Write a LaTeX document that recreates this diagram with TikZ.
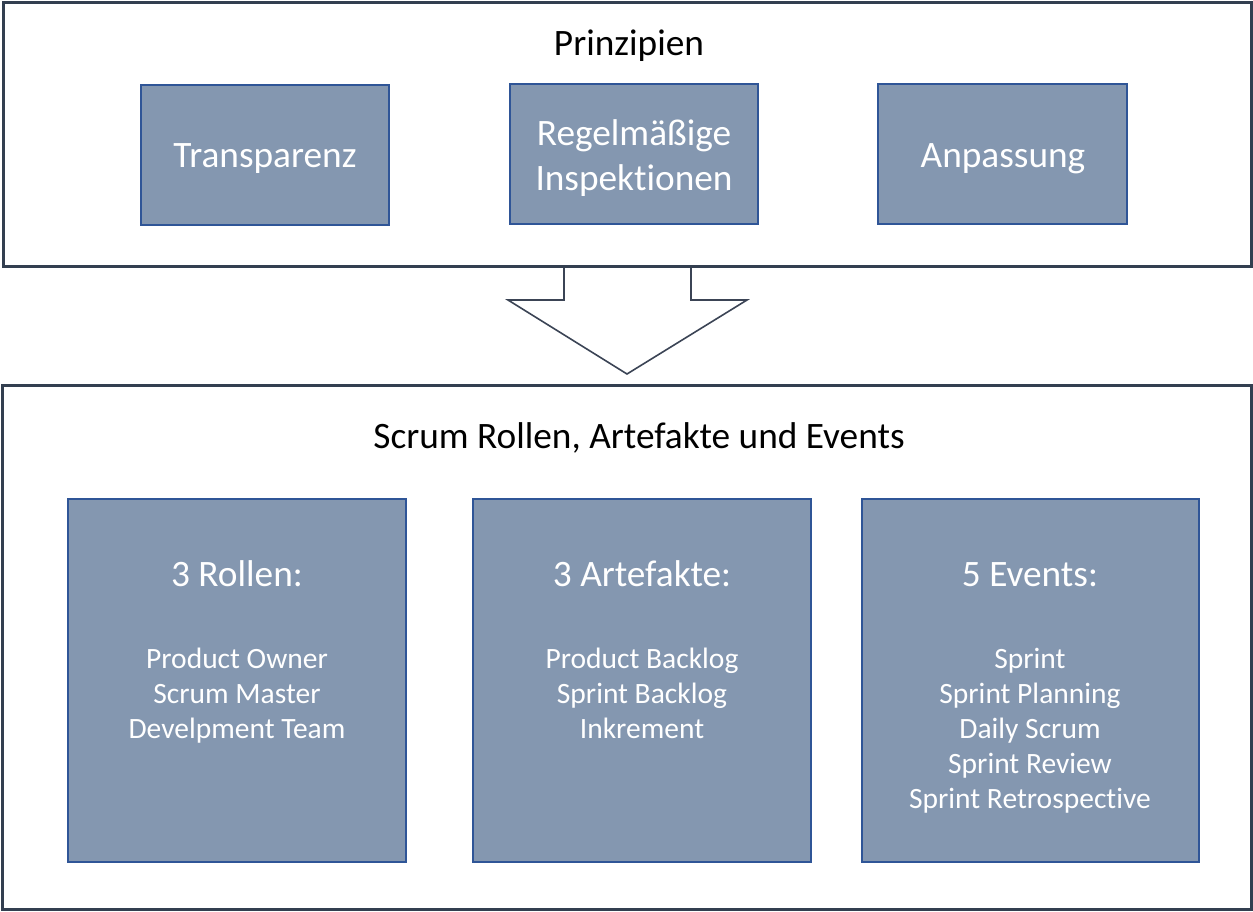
\documentclass[tikz,border=0pt]{standalone}
\usepackage{fontspec}
\setmainfont{Carlito}[Ligatures=CommonOff]
\begin{document}
\begin{tikzpicture}[x=1pt,y=-1pt,
  outerbox/.style={draw=outerc, line width=3pt, fill=white},
  innerbox/.style={draw=innerc, line width=1.8pt, fill=fillc},
  bigtxt/.style={font=\fontsize{37.3}{45}\selectfont, anchor=base, inner sep=0pt, align=center},
  smalltxt/.style={font=\fontsize{29.5}{35}\selectfont, anchor=base, inner sep=0pt, text=white, align=center},
  arrowc/.style={draw=arrowcol, line width=1.6pt, line join=miter}]
\definecolor{outerc}{HTML}{333F50}
\definecolor{innerc}{HTML}{2F5597}
\definecolor{fillc}{HTML}{8497B0}
\definecolor{arrowcol}{HTML}{3B4455}
\useasboundingbox (0,0) rectangle (1253,911);
% arrow
\draw[arrowc, fill=white] (564,266) -- (564,300) -- (508,300) -- (627,374) -- (747,300) -- (691,300) -- (691,266);
% top box
\draw[outerbox] (3,2) rectangle (1251,266);
\node[bigtxt] (prin) at (629,55) {Prinzipien};
\draw[innerbox] (141,85) rectangle (389,225);
\draw[innerbox] (510,84) rectangle (758,224);
\draw[innerbox] (878,84) rectangle (1127,224);
\node[bigtxt, text=white] (trans) at (265,167) {Transparenz};
\node[bigtxt, text=white] (regel1) at (634,145) {Regelmäßige};
\node[bigtxt, text=white] (regel2) at (634,190) {Inspektionen};
\node[bigtxt, text=white] (anp) at (1003,167) {Anpassung};
% bottom box
\draw[outerbox] (2,385) rectangle (1251,909);
\node[bigtxt] (scrum) at (639,448) {Scrum Rollen, Artefakte und Events};
\draw[innerbox] (68,499) rectangle (406,862);
\draw[innerbox] (473,499) rectangle (811,862);
\draw[innerbox] (862,499) rectangle (1199,862);
\node[bigtxt, text=white] (rollen) at (237,586) {3 Rollen:};
\node[bigtxt, text=white] (artef) at (642,586) {3 Artefakte:};
\node[bigtxt, text=white] (events) at (1030,586) {5 Events:};
\node[smalltxt] (r1) at (237,668) {Product Owner};
\node[smalltxt] (r2) at (237,703) {Scrum Master};
\node[smalltxt] (r3) at (237,738) {Develpment Team};
\node[smalltxt] (a1) at (642,668) {Product Backlog};
\node[smalltxt] (a2) at (642,703) {Sprint Backlog};
\node[smalltxt] (a3) at (642,738) {Inkrement};
\node[smalltxt] (e1) at (1030,668) {Sprint};
\node[smalltxt] (e2) at (1030,703) {Sprint Planning};
\node[smalltxt] (e3) at (1030,738) {Daily Scrum};
\node[smalltxt] (e4) at (1030,773) {Sprint Review};
\node[smalltxt] (e5) at (1030,808) {Sprint Retrospective};
\end{tikzpicture}
\end{document}
